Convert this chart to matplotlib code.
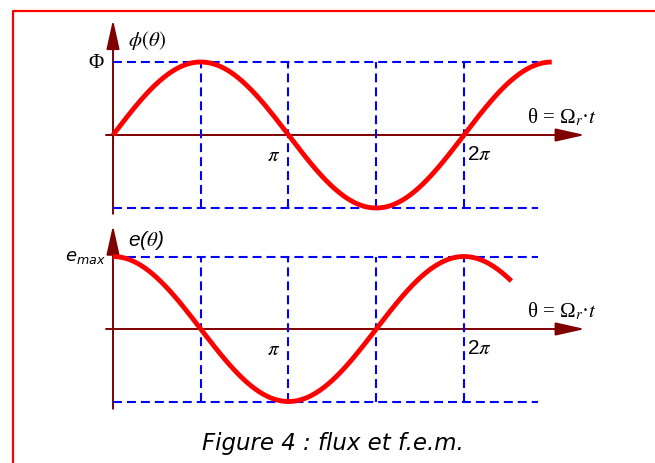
import numpy as np
import matplotlib
matplotlib.use("Agg")
from matplotlib import pyplot as plt
from matplotlib.lines import Line2D

# curve data (theta in rad, amplitudes normalised to 1)
flux_end = 2.5 * np.pi
emf_end = 2.27 * np.pi
flux_amp = 1.0
emf_amp = 1.0
guide_marks = [np.pi / 2, np.pi, 3 * np.pi / 2, 2 * np.pi]
guide_end = 7.61
tick_labels = [(np.pi, r"$\pi$"), (2 * np.pi, r"2$\pi$")]

W, H = 655, 464
AXIS = "#800000"
CURVE = "#ff0000"
GUIDE = "#0000ff"

fig = plt.figure(figsize=(W / 100, H / 100), dpi=100)
fig.patch.set_facecolor("white")

# red frame (open on the right and bottom)
fig.add_artist(Line2D([13 / W, 13 / W, 1.0], [0.0, 1 - 12 / H, 1 - 12 / H],
                      transform=fig.transFigure, color="red", lw=1.6))


def make_axes(top_px, bot_px, zero_px, amp_px):
    ax = fig.add_axes([60 / W, 1 - bot_px / H, 560 / W, (bot_px - top_px) / H])
    ax.set_xlim((60 - 113) / 55.86, (620 - 113) / 55.86)
    ax.set_ylim(-(bot_px - zero_px) / amp_px, (zero_px - top_px) / amp_px)
    ax.axis("off")
    ax.patch.set_visible(False)
    return ax


def draw_frame(ax, y_tip, y_base, amp):
    # axes with arrow heads
    ax.annotate("", xy=(0, y_tip), xytext=(0, y_base),
                arrowprops=dict(arrowstyle="-|>,head_length=1.8,head_width=0.4",
                                mutation_scale=10, color=AXIS, lw=1.4,
                                shrinkA=0, shrinkB=0), zorder=2)
    ax.annotate("", xy=(8.45, 0), xytext=(-0.125, 0),
                arrowprops=dict(arrowstyle="-|>,head_length=1.8,head_width=0.4",
                                mutation_scale=10, color=AXIS, lw=1.4,
                                shrinkA=0, shrinkB=0), zorder=2)
    # dashed guides
    for yv in (amp, -amp):
        ax.plot([0, guide_end], [yv, yv], color=GUIDE, lw=1.5,
                dashes=(4.3, 2.4), zorder=3)
    for xv in guide_marks:
        ax.plot([xv, xv], [-amp, amp], color=GUIDE, lw=1.5,
                dashes=(4.3, 2.4), zorder=3)
    pi_x, pi_lab = tick_labels[0]
    ax.text(pi_x - 0.26, -0.26, pi_lab, fontsize=15, ha="center",
            va="center", math_fontfamily="stix")
    two_x, two_lab = tick_labels[1]
    ax.text(two_x + 0.05, -0.26, two_lab, fontsize=15, ha="left",
            va="center", family="Liberation Sans", math_fontfamily="stix")
    ax.text(7.41, 0.25, r"θ = Ω$_r$·$t$", fontsize=15, ha="left",
            va="center", family="Liberation Serif", math_fontfamily="stix")


# flux
ax1 = make_axes(15, 225, 136, 73)
draw_frame(ax1, 1.58, -1.08, flux_amp)
th = np.linspace(0, flux_end, 400)
ax1.plot(th, flux_amp * np.sin(th), color=CURVE, lw=3.5,
         solid_capstyle="butt", zorder=4)
ax1.text(-0.17, flux_amp, "Φ", fontsize=15, ha="right", va="center",
         family="Liberation Serif")
ax1.text(0.27, 1.315, r"$\phi(\theta)$", fontsize=15, ha="left", va="center",
         math_fontfamily="stix")

# e.m.f.
ax2 = make_axes(222, 415, 330, 72.5)
draw_frame(ax2, 1.43, -1.10, emf_amp)
th = np.linspace(0, emf_end, 400)
ax2.plot(th, emf_amp * np.cos(th), color=CURVE, lw=3.5,
         solid_capstyle="butt", zorder=4)
ax2.text(-0.14, emf_amp, r"$e_{max}$", fontsize=13, ha="right", va="center",
         math_fontfamily="dejavusans")
ax2.text(0.27, 1.24, r"e($\theta$)", fontsize=15, ha="left", va="center",
         family="Liberation Sans", style="italic", math_fontfamily="stix")

fig.text(333 / W, 1 - 444 / H, "Figure 4 : flux et f.e.m.", fontsize=16.5,
         style="italic", family="DejaVu Sans", ha="center", va="center")

fig.savefig("out.png", dpi=100)
